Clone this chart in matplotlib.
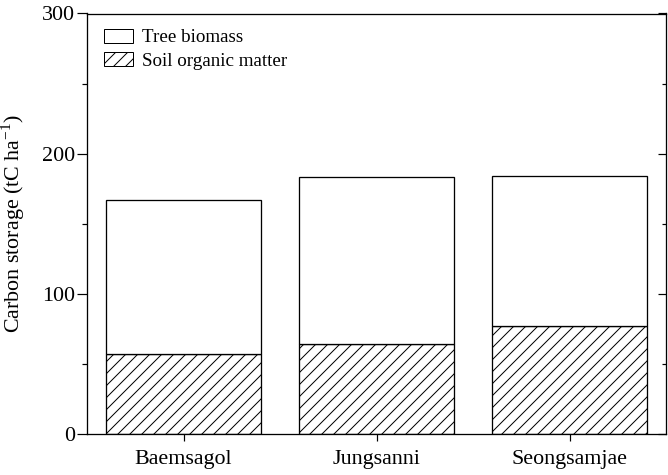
import matplotlib
matplotlib.use("Agg")
import matplotlib.pyplot as plt
import numpy as np

categories = ["Baemsagol", "Jungsanni", "Seongsamjae"]
soil_organic_matter = [57, 64, 77]
tree_biomass = [110, 119.5, 107]
yticks = [0, 100, 200, 300]

plt.rcParams['font.family'] = ['Liberation Serif', 'DejaVu Serif']
plt.rcParams['hatch.linewidth'] = 1.0
plt.rcParams['mathtext.fontset'] = 'custom'
plt.rcParams['mathtext.rm'] = 'Liberation Serif'

DPI = 72
fig = plt.figure(figsize=(668 / DPI, 475 / DPI), dpi=DPI)
ax = fig.add_axes([87 / 668, 1 - 434 / 475, (666 - 87) / 668, (434 - 13.5) / 475])

x = np.arange(len(categories))
w = 0.80
b1 = ax.bar(x, soil_organic_matter, w, color='white', edgecolor='black',
            linewidth=1.3, hatch='//', label='Soil organic matter')
b2 = ax.bar(x, tree_biomass, w, bottom=soil_organic_matter, color='white',
            edgecolor='black', linewidth=1.3, label='Tree biomass')

ax.set_xlim(-0.5, 2.5)
ax.set_ylim(0, 300)
ax.set_yticks(yticks)
ax.set_yticks([50, 150, 250], minor=True)
ax.set_xticks(x)
ax.set_xticklabels(categories, fontsize=22)
ax.tick_params(axis='y', which='major', direction='out', length=10, width=1.2,
               labelsize=22, pad=2)
ax.tick_params(axis='y', which='minor', direction='out', length=5, width=1.2)
ax.tick_params(axis='x', which='major', direction='out', length=7, width=1.2, pad=9)
for s in ax.spines.values():
    s.set_linewidth(1.3)

ax2 = ax.twinx()
ax2.set_ylim(0, 300)
ax2.set_yticks(yticks)
ax2.set_yticks([50, 150, 250], minor=True)
ax2.tick_params(axis='y', which='major', direction='in', length=8, width=1.2,
                labelright=False)
ax2.tick_params(axis='y', which='minor', direction='in', length=4, width=1.2)

ax.set_ylabel('Carbon storage (tC ha$^{-1}$)', fontsize=22, labelpad=15)

leg = ax.legend([b2, b1], ['Tree biomass', 'Soil organic matter'],
                loc='upper left', frameon=False, fontsize=19,
                handlelength=1.5, handleheight=0.75, handletextpad=0.5,
                labelspacing=0.3, borderaxespad=0.3, bbox_to_anchor=(0.007, 0.995))
for p in leg.get_patches():
    p.set_linewidth(1.0)

fig.savefig('out.png', dpi=DPI)
